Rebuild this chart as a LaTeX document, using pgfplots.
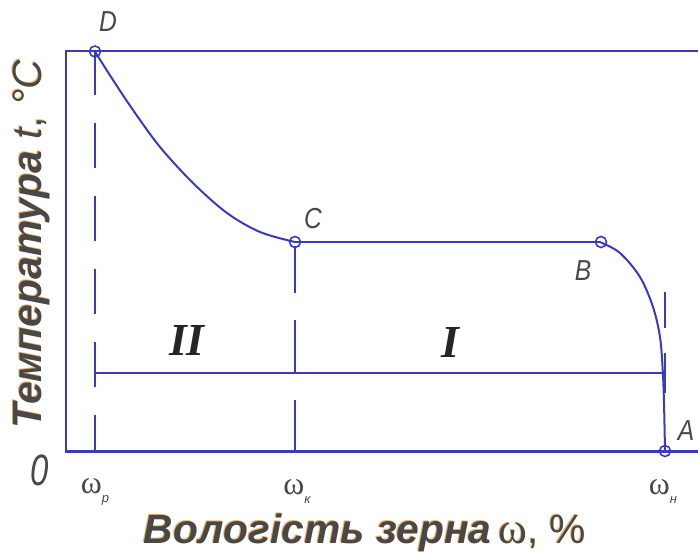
\documentclass[border=0pt]{standalone}
\usepackage{fontspec}
\setmainfont{Liberation Sans}
\newfontfamily\serifface{Liberation Serif}
\usepackage{pgfplots}
\pgfplotsset{compat=1.18}
\definecolor{lineblue}{RGB}{58,58,190}
\definecolor{txtgray}{RGB}{72,72,72}
\definecolor{fringe}{RGB}{240,175,100}

% tick label: omega with a small italic subscript
\newcommand{\om}[1]{{\serifface\fontsize{32}{32}\selectfont ω}\raisebox{-9bp}{\fontsize{13}{13}\selectfont\itshape #1}}
% axis titles
\newcommand{\xtitle}{\textbf{\textit{Вологість зерна}}\,{\serifface\fontsize{44}{44}\selectfont ω},\;\%}
\newcommand{\ytitle}{\textbf{\textit{Температура}} \textit{t}, \textit{°C}}

\pgfplotsset{bl/.style={lineblue, line width=2bp, mark=none}}

\begin{document}
\begin{tikzpicture}
\useasboundingbox (0,0) rectangle (698bp,555bp);
\begin{axis}[
  at={(66bp,103.5bp)}, anchor=south west,
  scale only axis, width=632bp, height=400bp,
  xmin=66, xmax=698, ymin=103.5, ymax=503.5,
  clip=false,
  axis x line*=bottom, axis y line*=left,
  axis line style={draw=none},
  ytick=\empty,
  xtick={95,297,663},
  xticklabels={\om{р},\om{к},\om{н}},
  major tick length=0pt,
  xticklabel style={anchor=center, yshift=-40bp, text=txtgray},
]
% frame: top, left and bottom lines
\addplot[bl] coordinates {(698,503.5) (66,503.5) (66,103.5) (698,103.5)};
% dashed vertical at omega_p
\addplot[bl, dash pattern=on 45bp off 28bp] coordinates {(95,505) (95,103.5)};
% dashed vertical at omega_k
\addplot[bl] coordinates {(295,309) (295,262)};
\addplot[bl] coordinates {(295,235) (295,182)};
\addplot[bl] coordinates {(295,155) (295,103.5)};
% dashes at omega_n
\addplot[bl] coordinates {(665,263) (665,227)};
\addplot[bl] coordinates {(665,202) (665,162)};
% border between periods II and I
\addplot[bl] coordinates {(95,182) (663,182)};
% falling-rate period D-C
\addplot[bl, smooth, tension=0.55] coordinates {
  (95,503.3) (113,475) (133,445) (160,408) (193,372) (227,342) (260,323) (295,313)};
% constant-rate period C-B
\addplot[bl] coordinates {(295,313) (601,313)};
% warming-up period B-A
\addplot[bl, smooth, tension=0.55] coordinates {
  (601,312.5) (620,302) (640,278) (653,248) (660,218) (662.7,185) (664,152) (665,104)};
% characteristic points
\addplot[lineblue, only marks, mark=o, mark size=5.5bp, mark options={line width=1.6bp}] coordinates {
  (95,503.5) (295,313) (601,313) (665,104)};

% point letters
\begin{scope}[every node/.style={text=txtgray, xscale=0.85, font=\fontsize{29}{29}\selectfont\itshape}]
\node at (axis cs:108,533) {D};
\node at (axis cs:313,336) {C};
\node at (axis cs:583,284) {B};
\node at (axis cs:686,124) {A};
\end{scope}
\node[text=txtgray, xscale=0.75, font=\fontsize{44}{44}\selectfont\itshape] at (axis cs:40,85) {0};
% period numbers
\node[text=black!85, font=\serifface\fontsize{46}{46}\selectfont\bfseries\itshape] at (axis cs:187,215) {II};
\node[text=black!85, font=\serifface\fontsize{46}{46}\selectfont\bfseries\itshape] at (axis cs:450,213) {I};

% axis titles
\node[text=fringe, font=\fontsize{41}{41}\selectfont] at (axis cs:364,22.8) {\xtitle};
\node[text=txtgray, font=\fontsize{41}{41}\selectfont] at (axis cs:365,22) {\xtitle};
\node[text=fringe, rotate=90, font=\fontsize{41}{41}\selectfont] at (axis cs:30.2,312) {\ytitle};
\node[text=txtgray, rotate=90, font=\fontsize{41}{41}\selectfont] at (axis cs:31,311) {\ytitle};
\end{axis}
\end{tikzpicture}
\end{document}
